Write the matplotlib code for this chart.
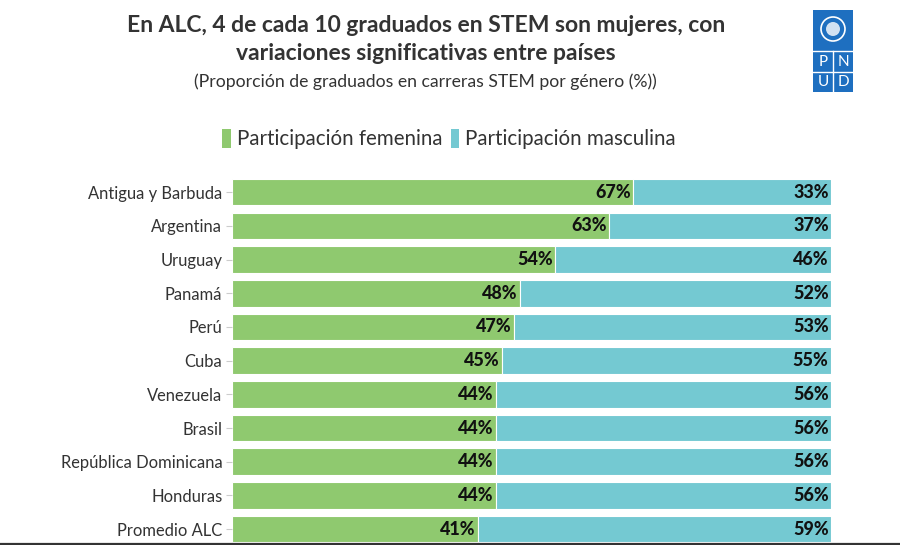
import matplotlib
matplotlib.use("Agg")
import matplotlib.pyplot as plt
from matplotlib.patches import Patch, Rectangle, Circle
from matplotlib.lines import Line2D
import numpy as np

countries = ["Antigua y Barbuda", "Argentina", "Uruguay", "Panamá", "Perú", "Cuba",
             "Venezuela", "Brasil", "República Dominicana", "Honduras", "Promedio ALC"]
female = [67, 63, 54, 48, 47, 45, 44, 44, 44, 44, 41]
male = [33, 37, 46, 52, 53, 55, 56, 56, 56, 56, 59]
series_names = ["Participación femenina", "Participación masculina"]

title_lines = ["En ALC, 4 de cada 10 graduados en STEM son mujeres, con",
               "variaciones significativas entre países"]
subtitle = "(Proporción de graduados en carreras STEM por género (%))"

GREEN = "#8fc96f"
CYAN = "#74c9d2"
FONT = ["Lato", "DejaVu Sans"]
plt.rcParams["font.family"] = FONT

W, H = 900, 545
fig = plt.figure(figsize=(W / 100, H / 100), dpi=100)
fig.patch.set_facecolor("white")

ax = fig.add_axes([232 / W, (H - 543) / H, (831 - 232) / W, (543 - 175) / H])
y = np.arange(len(countries))
ax.barh(y, female, height=0.79, color=GREEN, edgecolor="white", linewidth=0.8)
ax.barh(y, male, left=female, height=0.79, color=CYAN, edgecolor="white", linewidth=0.8)

for i, (f, m) in enumerate(zip(female, male)):
    ax.text(f - 0.4, i, f"{f}%", ha="right", va="center", fontsize=13,
            fontweight="black", color="#111111")
    ax.text(f + m - 0.4, i, f"{m}%", ha="right", va="center", fontsize=13,
            fontweight="black", color="#111111")

ax.set_xlim(0, 100)
ax.set_ylim(10.41, -0.51)
ax.set_yticks(y)
ax.set_yticklabels(countries, fontsize=11.9, color="#333333")
ax.tick_params(axis="y", length=4, color="#cccccc", pad=3)
ax.set_xticks([])
for s in ["top", "right", "left", "bottom"]:
    ax.spines[s].set_visible(False)

# full-width bottom line
fig.add_artist(Line2D([0, 1], [(H - 543.5) / H] * 2, color="#333333", lw=1.6,
                      transform=fig.transFigure))

# Title & subtitle
for ty, line in zip([25, 54], title_lines):
    fig.text(426 / W, 1 - ty / H, line, ha="center", va="center", fontsize=16.5,
             fontweight="bold", color="#333333")
fig.text(425 / W, 1 - 82 / H, subtitle, ha="center", va="center", fontsize=12.7,
         color="#333333")

# Legend
handles = [Patch(facecolor=GREEN, edgecolor="none"), Patch(facecolor=CYAN, edgecolor="none")]
leg = fig.legend(handles, series_names, loc="center", bbox_to_anchor=(449 / W, 1 - 139 / H),
                 ncol=2, frameon=False, fontsize=14.8, handlelength=0.4, handleheight=1.1,
                 handletextpad=0.3, columnspacing=0.4, labelcolor="#333333")

# Logo (PNUD)
lax = fig.add_axes([813 / W, 1 - 92 / H, 40 / W, 82 / H])
lax.set_xlim(0, 40)
lax.set_ylim(82, 0)
lax.axis("off")
BLUE = "#1e6fc0"
lax.add_patch(Rectangle((0, 0), 40, 82, facecolor=BLUE, edgecolor="none"))
lax.add_patch(Circle((20, 19), 12, facecolor="none", edgecolor="white", linewidth=1.2))
lax.add_patch(Circle((20, 19), 7, facecolor="white", edgecolor="none", alpha=0.8))
lax.plot([0, 40], [41, 41], color="white", lw=1)
lax.plot([0, 40], [61.5, 61.5], color="white", lw=1)
lax.plot([20, 20], [41, 82], color="white", lw=1)
for tx, ty, t in [(10, 51.5, "P"), (30, 51.5, "N"), (10, 72, "U"), (30, 72, "D")]:
    lax.text(tx, ty, t, ha="center", va="center", color="white", fontsize=11)

fig.savefig("out.png", dpi=100, facecolor="white")
